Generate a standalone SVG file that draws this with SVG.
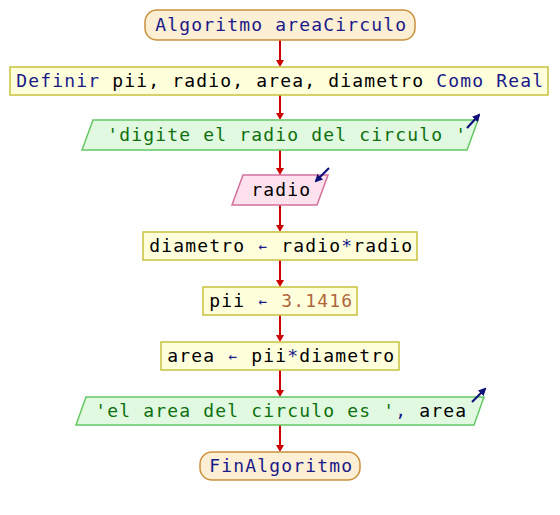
<svg xmlns="http://www.w3.org/2000/svg" width="560" height="515" viewBox="0 0 560 515">
  <defs>
    <marker id="flowHead" viewBox="0 0 7 8" refX="2" refY="4" markerWidth="7" markerHeight="8" markerUnits="userSpaceOnUse" orient="auto">
      <path d="M0,0 L7,4 L0,8 z" fill="#cc0000"/>
    </marker>
    <marker id="ioHead" viewBox="0 0 8 8" refX="6" refY="4" markerWidth="8" markerHeight="8" markerUnits="userSpaceOnUse" orient="auto">
      <path d="M0,0 L8,4 L0,8 z" fill="#10107a"/>
    </marker>
  </defs>
  <style>
    text { font-family: "DejaVu Sans Mono", "Liberation Mono", monospace; font-size: 18px; letter-spacing: 1.164px; white-space: pre; fill: #000; }
    .term { fill: #fdefd3; stroke: #c8913c; stroke-width: 1.5; }
    .proc { fill: #ffffdc; stroke: #c9c23e; stroke-width: 1.5; }
    .out { fill: #e1f9e1; stroke: #64c864; stroke-width: 1.5; }
    .in { fill: #fde1ec; stroke: #d4709c; stroke-width: 1.5; }
    .kw { fill: #1a1a8a; }
    .str { fill: #0f700f; }
    .num { fill: #b0663c; }
    .op { fill: #1a1a8a; }
    .asg { fill: #1a1a8a; font-size: 14px; }
    .flow { stroke: #cc0000; stroke-width: 2; fill: none; marker-end: url(#flowHead); }
    .io { stroke: #10107a; stroke-width: 2.2; fill: none; marker-end: url(#ioHead); }
  </style>

  <g id="connectors">
    <line class="flow" x1="280" y1="40" x2="280" y2="62"/>
    <line class="flow" x1="280" y1="95" x2="280" y2="115"/>
    <line class="flow" x1="280" y1="150" x2="280" y2="170"/>
    <line class="flow" x1="280" y1="205" x2="280" y2="227"/>
    <line class="flow" x1="280" y1="260" x2="280" y2="282"/>
    <line class="flow" x1="280" y1="315" x2="280" y2="337"/>
    <line class="flow" x1="280" y1="370" x2="280" y2="392"/>
    <line class="flow" x1="280" y1="425" x2="280" y2="447"/>
  </g>

  <g id="start">
    <rect class="term" x="145" y="10" width="270" height="30" rx="12" ry="12"/>
    <text x="155.2" y="31" class="kw">Algoritmo areaCirculo</text>
  </g>

  <g id="define">
    <rect class="proc" x="10" y="67" width="538" height="28"/>
    <text x="16.2" y="87"><tspan class="kw">Definir</tspan> pii, radio, area, diametro <tspan class="kw">Como Real</tspan></text>
  </g>

  <g id="prompt">
    <polygon class="out" points="93,120 478,120 467,150 82,150"/>
    <text x="107.2" y="141" class="str">'digite el radio del circulo '</text>
    <line class="io" x1="467" y1="128" x2="479" y2="115"/>
  </g>

  <g id="read">
    <polygon class="in" points="243,175 328,175 317,205 232,205"/>
    <text x="251.2" y="196">radio</text>
    <line class="io" x1="329" y1="168" x2="316" y2="181"/>
  </g>

  <g id="calcDiameter">
    <rect class="proc" x="143" y="232" width="274" height="28"/>
    <text x="149.2" y="252">diametro <tspan class="asg" dx="1.2" dy="-1">←</tspan><tspan dx="1.2" dy="1"> radio</tspan><tspan class="op">*</tspan>radio</text>
  </g>

  <g id="setPi">
    <rect class="proc" x="203" y="287" width="154" height="28"/>
    <text x="209.2" y="307">pii <tspan class="asg" dx="1.2" dy="-1">←</tspan><tspan dx="1.2" dy="1" class="num"> 3.1416</tspan></text>
  </g>

  <g id="calcArea">
    <rect class="proc" x="161" y="342" width="238" height="28"/>
    <text x="167.2" y="362">area <tspan class="asg" dx="1.2" dy="-1">←</tspan><tspan dx="1.2" dy="1"> pii</tspan><tspan class="op">*</tspan>diametro</text>
  </g>

  <g id="showArea">
    <polygon class="out" points="86,397 484,397 474,425 76,425"/>
    <text x="95.2" y="417"><tspan class="str">'el area del circulo es '</tspan><tspan class="op">,</tspan> area</text>
    <line class="io" x1="472" y1="402" x2="485" y2="389"/>
  </g>

  <g id="end">
    <rect class="term" x="200" y="452" width="160" height="28" rx="12" ry="12"/>
    <text x="209.2" y="472" class="kw">FinAlgoritmo</text>
  </g>
</svg>
